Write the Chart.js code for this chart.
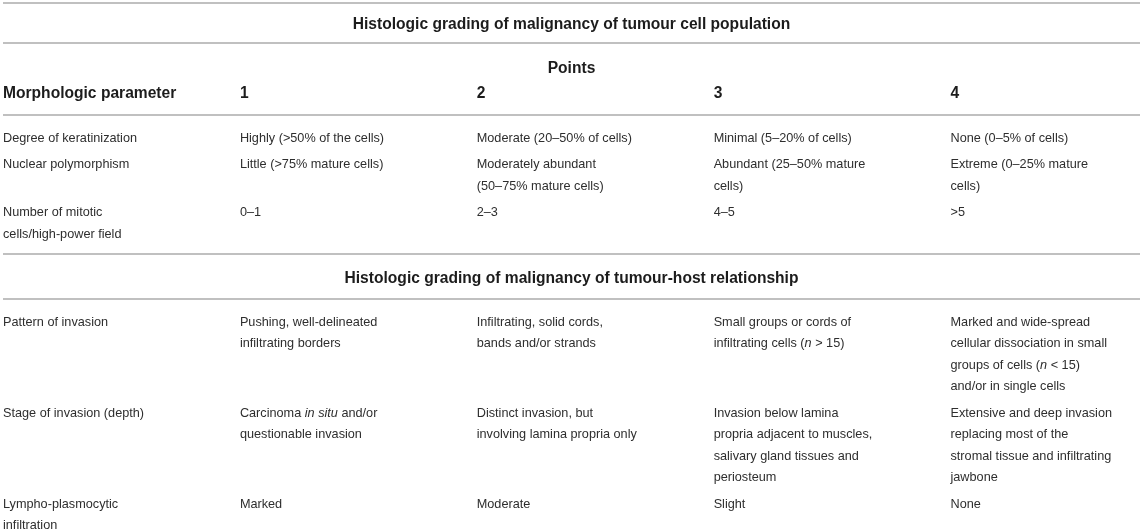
<!DOCTYPE html>
<html><head><meta charset="utf-8">
<script src="https://cdn.jsdelivr.net/npm/chart.js@4.4.0/dist/chart.umd.min.js"></script>
<style>html,body{margin:0;padding:0;background:#fff}#wrap{width:1143px;height:530px;position:relative}</style>
</head><body><div id="wrap"><canvas id="c"></canvas></div>
<script>
// ---------- content ----------
const sectionTitles = [
  "Histologic grading of malignancy of tumour cell population",
  "Histologic grading of malignancy of tumour-host relationship"
];
const pointsLabel = "Points";
const columnHeaders = ["Morphologic parameter", "1", "2", "3", "4"];
// each row: [parameter lines, point-1 lines, point-2 lines, point-3 lines, point-4 lines]; *...* = italic
const cellPopulationRows = [
  [["Degree of keratinization"], ["Highly (>50% of the cells)"], ["Moderate (20–50% of cells)"], ["Minimal (5–20% of cells)"], ["None (0–5% of cells)"]],
  [["Nuclear polymorphism"], ["Little (>75% mature cells)"], ["Moderately abundant", "(50–75% mature cells)"], ["Abundant (25–50% mature", "cells)"], ["Extreme (0–25% mature", "cells)"]],
  [["Number of mitotic", "cells/high-power field"], ["0–1"], ["2–3"], ["4–5"], [">5"]]
];
const tumourHostRows = [
  [["Pattern of invasion"], ["Pushing, well-delineated", "infiltrating borders"], ["Infiltrating, solid cords,", "bands and/or strands"], ["Small groups or cords of", "infiltrating cells (*n* > 15)"], ["Marked and wide-spread", "cellular dissociation in small", "groups of cells (*n* < 15)", "and/or in single cells"]],
  [["Stage of invasion (depth)"], ["Carcinoma *in situ* and/or", "questionable invasion"], ["Distinct invasion, but", "involving lamina propria only"], ["Invasion below lamina", "propria adjacent to muscles,", "salivary gland tissues and", "periosteum"], ["Extensive and deep invasion", "replacing most of the", "stromal tissue and infiltrating", "jawbone"]],
  [["Lympho-plasmocytic", "infiltration"], ["Marked"], ["Moderate"], ["Slight"], ["None"]]
];

// ---------- layout metrics (style) ----------
const X_MAX = 4.8;            // column units across the table width
const Y_MAX = 530;            // layout units down the page
const LINE = 21.5, ROW_GAP = 5, RULE_TO_TEXT = 21.5;
const TITLE_BLOCK = [40, 45];
const HEAD_POINTS = 24, HEAD_COLS = 49, HEAD_BLOCK = 72;
const FIRST_RULE = 3;
const TEXT_SHIFT = 1.8;       // optical baseline adjustment in px
const REG_FONT = '12.7px "Liberation Sans", Arial, Helvetica, sans-serif';
const BOLD_FONT = 'bold 15.6px "Liberation Sans", Arial, Helvetica, sans-serif';
const REG_IT_FONT = 'italic 12.7px "Liberation Sans", Arial, Helvetica, sans-serif';
const TEXT_COLOR = '#2e2e2e', BOLD_COLOR = '#1c1c1c', RULE_COLOR = '#ababab';

// ---------- build table geometry in scale units ----------
const rules = [], cells = [];
let cursor = FIRST_RULE; rules.push(cursor);
function addText(x, y, text, bold, align) { cells.push({x: x, y: y, text: text, bold: bold, align: align}); }
function buildSection(idx, rows, withHeader) {
  addText(X_MAX / 2, cursor + TITLE_BLOCK[idx] / 2, sectionTitles[idx], true, 'center');
  cursor += TITLE_BLOCK[idx]; rules.push(cursor);
  if (withHeader) {
    addText(X_MAX / 2, cursor + HEAD_POINTS, pointsLabel, true, 'center');
    columnHeaders.forEach((h, c) => addText(c, cursor + HEAD_COLS, h, true, 'left'));
    cursor += HEAD_BLOCK; rules.push(cursor);
  }
  let t = cursor + RULE_TO_TEXT;
  rows.forEach((row, r) => {
    const n = Math.max(...row.map(cell => cell.length));
    row.forEach((cell, c) => cell.forEach((ln, k) => addText(c, t + k * LINE, ln, false, 'left')));
    t += (n - 1) * LINE;
    if (r < rows.length - 1) t += LINE + ROW_GAP;
  });
  cursor = t + RULE_TO_TEXT;
  if (cursor < Y_MAX) rules.push(cursor);
}
buildSection(0, cellPopulationRows, true);
buildSection(1, tumourHostRows, false);

const ruleDatasets = rules.map(r => ({
  type: 'line',
  data: [{x: 0, y: r}, {x: X_MAX, y: r}],
  borderColor: RULE_COLOR, borderWidth: 1.6, pointRadius: 0, fill: false
}));
const textDataset = {
  type: 'scatter', label: 'cells',
  data: cells, pointRadius: 0, pointHoverRadius: 0, isText: true
};

const textPlugin = {
  id: 'cellText',
  afterDatasetsDraw(chart) {
    const ctx = chart.ctx;
    chart.data.datasets.forEach((ds, di) => {
      if (!ds.isText) return;
      const meta = chart.getDatasetMeta(di);
      meta.data.forEach((el, j) => {
        const d = ds.data[j];
        const yy = el.y + TEXT_SHIFT;
        ctx.save();
        ctx.textBaseline = 'middle';
        if (d.bold) {
          ctx.font = BOLD_FONT; ctx.fillStyle = BOLD_COLOR; ctx.textAlign = d.align;
          ctx.fillText(d.text, el.x, yy);
        } else {
          const parts = d.text.split('*');
          ctx.fillStyle = TEXT_COLOR; ctx.textAlign = 'left';
          let total = 0;
          parts.forEach((p, i) => { ctx.font = i % 2 ? REG_IT_FONT : REG_FONT; total += ctx.measureText(p).width; });
          let x = d.align === 'center' ? el.x - total / 2 : el.x;
          parts.forEach((p, i) => {
            ctx.font = i % 2 ? REG_IT_FONT : REG_FONT;
            ctx.fillText(p, x, yy);
            x += ctx.measureText(p).width;
          });
        }
        ctx.restore();
      });
    });
  }
};

new Chart(document.getElementById('c'), {
  type: 'scatter',
  data: { datasets: ruleDatasets.concat([textDataset]) },
  options: {
    responsive: true, maintainAspectRatio: false, animation: false, events: [],
    layout: { padding: { left: 3, right: 3, top: 0, bottom: 0 } },
    plugins: { legend: { display: false }, tooltip: { enabled: false } },
    scales: {
      x: { type: 'linear', min: 0, max: X_MAX, display: false },
      y: { type: 'linear', min: 0, max: Y_MAX, reverse: true, display: false }
    }
  },
  plugins: [textPlugin]
});
</script>
</body></html>
